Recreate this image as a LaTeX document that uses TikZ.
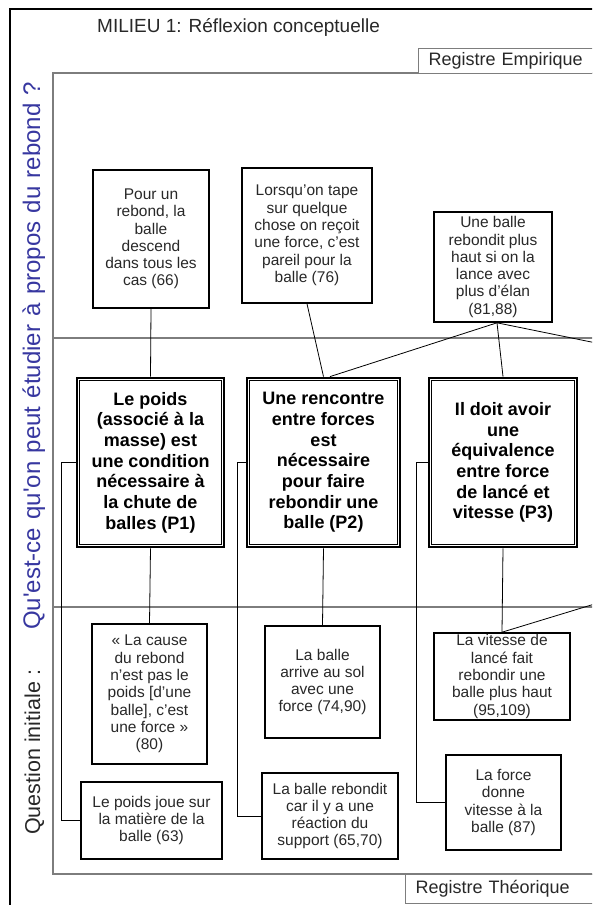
\documentclass[tikz,border=0pt]{standalone}
\usepackage{fontspec}
\setmainfont{Liberation Sans}
\definecolor{txt}{RGB}{40,40,40}
\definecolor{qblue}{RGB}{55,55,160}
\definecolor{framegray}{RGB}{125,125,125}
\begin{document}
\begin{tikzpicture}[x=1pt,y=-1pt,
  box/.style={draw=black, line width=1.6pt, fill=white, align=center, inner sep=0pt,
    font=\fontsize{15.5}{17.3}\selectfont, text=txt},
  pbox/.style={draw=black, line width=2.8pt, fill=white, align=center, inner sep=0pt,
    font=\fontsize{18}{20.7}\selectfont\bfseries, text=black},
  link/.style={draw=black, line width=0.8pt},
  frameline/.style={draw=framegray, line width=1.3pt},
  regbox/.style={draw=framegray, line width=1.2pt, fill=white, anchor=north west,
    align=left, inner xsep=10pt, inner ysep=0pt, minimum width=210pt,
    text width=190pt, font=\fontsize{18}{20}\selectfont, text=txt},
  vtext/.style={rotate=90, anchor=base west, inner sep=0pt}
]
\useasboundingbox (0,0) rectangle (592,905);
\clip (0,0) rectangle (592,905);
\fill[white] (0,0) rectangle (592,905);

% outer and inner frames
\draw[black, line width=1.3pt] (10,9) rectangle (640,960);
\draw[frameline] (53,73) rectangle (640,874);
\draw[frameline] (53,338) -- (640,338);
\draw[frameline] (53,607) -- (640,607);

% registers
\node[regbox, minimum height=25pt] (regE) at (418,48) {Registre Empirique};
\node[regbox, minimum height=29pt] (regT) at (405,874) {Registre Théorique};

% title
\node[anchor=west, inner sep=0pt, font=\fontsize{19}{22}\selectfont, text=txt] (title) at (97,27) {MILIEU 1: Réflexion conceptuelle};

% vertical question
\node[vtext, text=txt, font=\fontsize{21.5}{24}\selectfont] (q1) at (40,835) {Question initiale :};
\node[vtext, text=qblue, font=\fontsize{24}{26}\selectfont] (q2) at (40,630) {\hbox to 548pt{Qu\textquotesingle est-ce qu\textquotesingle on peut étudier à propos du rebond ?}};

% empirical boxes
\node[box, minimum width=116pt, minimum height=138pt] (A1) at (151,239)
  {Pour un\\rebond, la\\balle\\descend\\dans tous les\\cas (66)};
\node[box, minimum width=130pt, minimum height=135pt] (A2) at (307,235.5)
  {Lorsqu’on tape\\sur quelque\\chose on reçoit\\une force, c’est\\pareil pour la\\balle (76)};
\node[box, minimum width=118pt, minimum height=110pt] (A3) at (493,267)
  {Une balle\\rebondit plus\\haut si on la\\lance avec\\plus d’élan\\(81,88)};

% principles
\node[pbox, minimum width=147pt, minimum height=169pt] (P1) at (150.5,462.5)
  {Le poids\\(associé à la\\masse) est\\une condition\\nécessaire à\\la chute de\\balles (P1)};
\node[pbox, minimum width=153pt, minimum height=169pt] (P2) at (323.5,462.5)
  {Une rencontre\\entre forces\\est\\nécessaire\\pour faire\\rebondir une\\balle (P2)};
\node[pbox, minimum width=148pt, minimum height=169pt] (P3) at (503,462.5)
  {Il doit avoir\\une\\équivalence\\entre force\\de lancé et\\vitesse (P3)};
\foreach \n in {P1,P2,P3}
  \draw[line width=1pt] ([shift={(3.8pt,-3.8pt)}]\n.north west) rectangle ([shift={(-3.8pt,3.8pt)}]\n.south east);

% theoretical boxes
\node[box, minimum width=115pt, minimum height=140pt] (B1) at (149.5,694)
  {« La cause\\du rebond\\n’est pas le\\poids [d’une\\balle], c’est\\une force »\\(80)};
\node[box, minimum width=141pt, minimum height=77pt] (B2) at (151.5,820.5)
  {Le poids joue sur\\la matière de la\\balle (63)};
\node[box, minimum width=115pt, minimum height=112pt] (B3) at (322.5,682)
  {La balle\\arrive au sol\\avec une\\force (74,90)};
\node[box, minimum width=136pt, minimum height=86pt] (B4) at (330,816)
  {La balle rebondit\\car il y a une\\réaction du\\support (65,70)};
\node[box, minimum width=136pt, minimum height=87pt] (B5) at (502,676.5)
  {La vitesse de\\lancé fait\\rebondir une\\balle plus haut\\(95,109)};
\node[box, minimum width=115pt, minimum height=95pt] (B6) at (503.5,802.5)
  {La force\\donne\\vitesse à la\\balle (87)};

% off-page ends
\coordinate (R1) at (610,345.8);
\coordinate (R2) at (610,599.3);

% connectors
\draw[link] (A1.south) -- (P1.north);
\draw[link] (A2.south) -- (P2.north);
\draw[link] ([xshift=4pt]A3.south) -- ([xshift=6.5pt]P2.north);
\draw[link] ([xshift=4pt]A3.south) -- (P3.north);
\draw[link] ([xshift=4pt]A3.south) -- (R1);
\draw[link] (P1.south) -- (B1.north);
\draw[link] (P2.south) -- (B3.north);
\draw[link] (P3.south) -- (B5.north);
\draw[link] (R2) -- (B5.north);
\draw[link] (P1.west) -- ++(-14,0) |- (B2.west);
\draw[link] (P2.west) -- ++(-8,0) |- (B4.west);
\draw[link] (P3.west) -- ++(-11,0) |- (B6.west);
\end{tikzpicture}
\end{document}
